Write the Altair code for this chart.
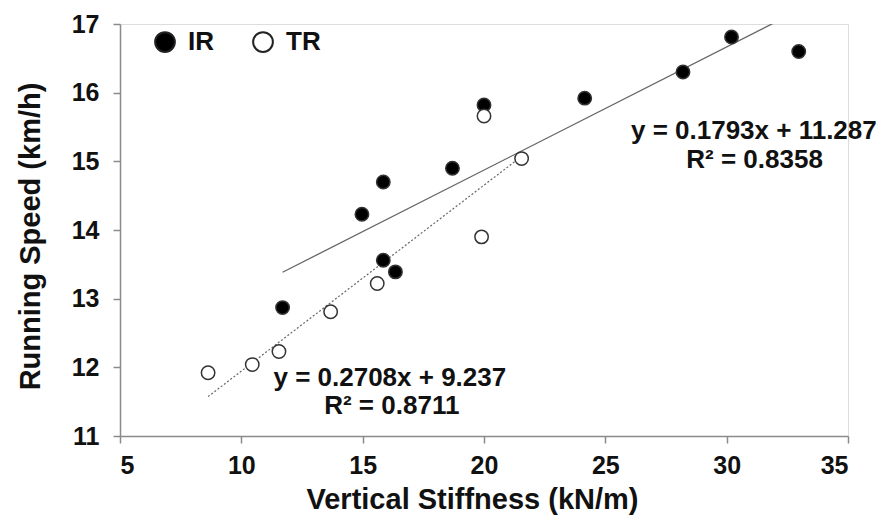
import altair as alt
import pandas as pd

# --- data ---
ir_x = [11.7, 14.97, 15.85, 15.85, 16.35, 18.7, 20.0, 24.15, 28.2, 30.2, 32.97]
ir_y = [12.87, 14.23, 14.70, 13.56, 13.39, 14.90, 15.82, 15.92, 16.30, 16.81, 16.60]
tr_x = [8.63, 10.45, 11.55, 13.68, 15.6, 19.9, 20.0, 21.55]
tr_y = [11.92, 12.04, 12.23, 12.81, 13.22, 13.90, 15.66, 15.04]

series_names = ["IR", "TR"]
slopes = [0.1793, 0.2708]
intercepts = [11.287, 9.237]
r2 = [0.8358, 0.8711]
fit_x_start = [min(ir_x), min(tr_x)]
fit_x_end = [max(ir_x), max(tr_x)]

x_ticks = [5, 10, 15, 20, 25, 30, 35]
y_ticks = [11, 12, 13, 14, 15, 16, 17]

pts = pd.DataFrame(
    {"series": ["IR"] * len(ir_x) + ["TR"] * len(tr_x),
     "x": ir_x + tr_x,
     "y": ir_y + tr_y}
)

fit_rows = []
for s, m, b, x0, x1 in zip(series_names, slopes, intercepts, fit_x_start, fit_x_end):
    for xv in (x0, x1):
        fit_rows.append({"series": s, "x": xv, "y": m * xv + b})
fits = pd.DataFrame(fit_rows)

one_row = pd.DataFrame({"k": [0]})

FONT = "Liberation Sans"

xs = alt.Scale(domain=[5, 35], nice=False, zero=False)
ys = alt.Scale(domain=[11, 17], nice=False, zero=False)

xaxis = alt.Axis(values=x_ticks, format="d", title="Vertical Stiffness (kN/m)", grid=False,
                 labelFontSize=25, labelFontWeight="bold", labelFont=FONT, labelColor="#111",
                 titleFontSize=29, titleFontWeight="bold", titleFont=FONT, titleColor="#111",
                 titleX=352, titleY=72, titleBaseline="alphabetic", labelPadding=10,
                 domainColor="#8a8a8a", tickColor="#8a8a8a", tickSize=7, domainWidth=1.5, tickWidth=1.5)
yaxis = alt.Axis(values=y_ticks, format="d", title="Running Speed (km/h)", grid=False,
                 labelFontSize=25, labelFontWeight="bold", labelFont=FONT, labelColor="#111",
                 titleFontSize=29, titleFontWeight="bold", titleFont=FONT, titleColor="#111",
                 titleX=-81, titleY=212, titleBaseline="alphabetic", labelPadding=14,
                 domainColor="#8a8a8a", tickColor="#8a8a8a", tickSize=7, domainWidth=1.5, tickWidth=1.5)

ir_line = alt.Chart(fits).transform_filter(alt.datum.series == "IR").mark_line(
    color="#666", strokeWidth=1.3, clip=True
).encode(x=alt.X("x:Q", scale=xs, axis=xaxis), y=alt.Y("y:Q", scale=ys, axis=yaxis))

tr_line = alt.Chart(fits).transform_filter(alt.datum.series == "TR").mark_line(
    color="#666", strokeWidth=1.2, strokeDash=[2, 2], clip=True
).encode(x=alt.X("x:Q", scale=xs), y=alt.Y("y:Q", scale=ys))

points = alt.Chart(pts).mark_point(shape="circle", filled=True, size=180, stroke="#333",
                                   strokeWidth=1.5, opacity=1).encode(
    x=alt.X("x:Q", scale=xs),
    y=alt.Y("y:Q", scale=ys),
    fill=alt.Fill("series:N",
                  scale=alt.Scale(domain=series_names, range=["black", "white"]),
                  legend=alt.Legend(title=None, orient="none", legendX=32, legendY=5,
                                    direction="horizontal", symbolType="circle",
                                    symbolSize=390, symbolStrokeColor="#222",
                                    symbolStrokeWidth=2, labelFontSize=26,
                                    labelFontWeight="bold", labelFont=FONT,
                                    labelColor="#111", labelOffset=10,
                                    columnPadding=35, padding=0)),
)


def eq_text(txt, xv, yv):
    return alt.Chart(one_row).mark_text(
        text=txt, font=FONT, fontSize=26, fontWeight="bold", color="#111",
        align="center", baseline="middle"
    ).encode(x=alt.X(datum=xv, scale=xs), y=alt.Y(datum=yv, scale=ys))


texts = [
    eq_text(f"y = {slopes[0]}x + {intercepts[0]}", 31.12, 15.44),
    eq_text(f"R² = {r2[0]}", 31.15, 15.02),
    eq_text(f"y = {slopes[1]}x + {intercepts[1]}", 16.12, 11.85),
    eq_text(f"R² = {r2[1]}", 16.2, 11.43),
]

chart = alt.layer(ir_line, tr_line, points, *texts).properties(
    width=728, height=412,
    autosize=alt.AutoSizeParams(type="none"),
    padding={"left": 112, "top": 16, "right": 34, "bottom": 79},
).configure_view(stroke=None).configure(background="white")

chart.save("out.html", embed_options={"renderer": "svg", "actions": False})
